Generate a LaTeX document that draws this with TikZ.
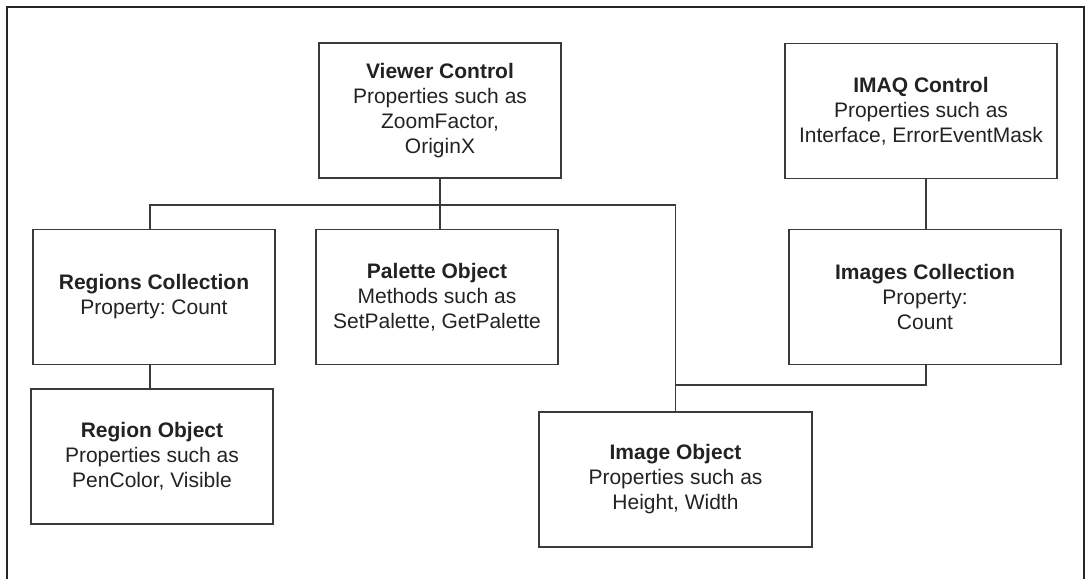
\documentclass[tikz,border=0pt]{standalone}
\usepackage{fontspec}
\setmainfont{Liberation Sans}
\frenchspacing
\definecolor{ink}{HTML}{222222}
\definecolor{linec}{HTML}{3A3A3A}
\begin{document}
\begin{tikzpicture}[x=1pt,y=-1pt,
  box/.style={draw=linec, line width=1.3pt, align=center, text=ink,
    font=\fontsize{21}{25}\selectfont, inner sep=0pt, minimum height=135pt},
  conn/.style={draw=linec, line width=1.3pt},
  frame/.style={draw=black!85, line width=2.2pt}]
\useasboundingbox (0,0) rectangle (1086,579);
\draw[frame] (7,579) -- (7,7) -- (1084,7) -- (1084,579);

\node[box, minimum width=242pt] (viewer) at (440,110.5)
  {\textbf{Viewer Control}\\Properties such as\\ZoomFactor,\\OriginX};
\node[box, minimum width=272pt] (imaq) at (921,111)
  {\textbf{IMAQ Control}\\Properties such as\\Interface, ErrorEventMask};
\node[box, minimum width=242pt] (regions) at (154,297)
  {\textbf{Regions Collection}\\Property: Count};
\node[box, minimum width=242pt] (palette) at (437,297)
  {\textbf{Palette Object}\\Methods such as\\SetPalette, GetPalette};
\node[box, minimum width=272pt] (images) at (925,297)
  {\textbf{Images Collection}\\Property:\\Count};
\node[box, minimum width=242pt] (region) at (152,456.5)
  {\textbf{Region Object}\\Properties such as\\PenColor, Visible};
\node[box, minimum width=273pt] (image) at (675.5,479.5)
  {\textbf{Image Object}\\Properties such as\\Height, Width};

\coordinate (busL) at (150,205);
\coordinate (busR) at (675.5,205);
\coordinate (jn) at (926,385);

\draw[conn] (viewer.south) -- (viewer.south |- palette.north);
\draw[conn] (busL |- regions.north) -- (busL) -- (busR) -- (image.north);
\draw[conn] (busL |- regions.south) -- (busL |- region.north);
\draw[conn] (jn |- imaq.south) -- (jn |- images.north);
\draw[conn] (jn |- images.south) -- (jn) -- (busR |- jn);
\end{tikzpicture}
\end{document}
